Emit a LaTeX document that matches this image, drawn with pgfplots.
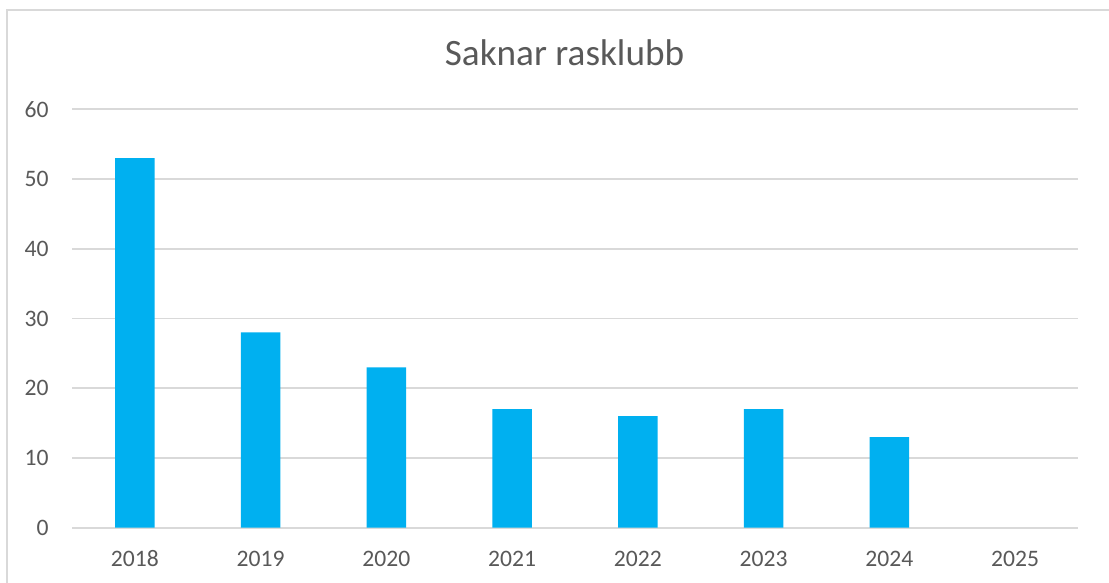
\documentclass[border=0pt]{standalone}
\usepackage{fontspec}
\setmainfont{Carlito}
\usepackage{pgfplots}
\pgfplotsset{compat=1.18}
\definecolor{txt}{HTML}{595959}
\definecolor{gridc}{HTML}{D9D9D9}
\definecolor{barc}{HTML}{00B0F0}
\begin{document}
\begin{tikzpicture}[x=1pt,y=1pt]
\useasboundingbox (0,0) rectangle (554.5,291.5);
\fill[white] (0,0) rectangle (554.5,291.5);
\draw[gridc, line width=0.8pt] (3.5,-1) -- (3.5,286.5) -- (556,286.5);
\node[txt, anchor=base, font=\fontsize{18.6}{20}\selectfont, inner sep=0pt] at (282.25,258.65) {Saknar rasklubb};
\begin{axis}[
  at={(36pt,27.65pt)}, anchor=south west,
  scale only axis, width=503pt, height=209.2pt,
  xmin=-0.5, xmax=7.5, ymin=0, ymax=60,
  ytick={0,10,...,60},
  xtick={0,...,7},
  xticklabels={2018,2019,2020,2021,2022,2023,2024,2025},
  axis line style={draw=none},
  major tick length=0pt,
  ymajorgrids, grid style={gridc, line width=0.9pt},
  /pgf/number format/assume math mode=true,
  ticklabel style={txt, font=\fontsize{11.8}{13}\selectfont, inner sep=0pt},
  yticklabel style={anchor=east, xshift=-11.5pt},
  xticklabel style={anchor=base, yshift=-19.5pt},
  clip=false,
]
\addplot[ybar, bar width=19.85pt, fill=barc, draw=none] coordinates {
(0,53) (1,28) (2,23) (3,17) (4,16) (5,17) (6,13)
};
\end{axis}
\end{tikzpicture}
\end{document}
